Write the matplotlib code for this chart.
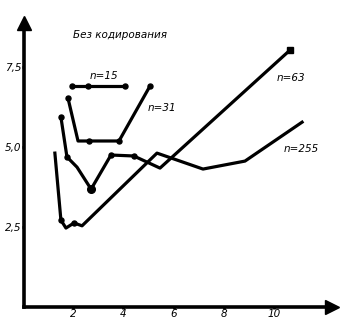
import matplotlib
matplotlib.use("Agg")
import matplotlib.pyplot as plt

# values
n15_x = [1.96, 2.60, 4.07]
n15_y = [6.91, 6.91, 6.91]

n31_x = [1.80, 2.20, 2.64, 3.83, 5.06]
n31_y = [6.54, 5.19, 5.19, 5.19, 6.91]

n63_x = [1.52, 1.76, 1.96, 2.16, 2.72, 3.51, 4.42, 5.46, 10.63]
n63_y = [5.94, 4.69, 4.53, 4.37, 3.68, 4.75, 4.72, 4.34, 8.04]

n255_x = [1.28, 1.52, 1.72, 2.04, 2.36, 5.34, 7.17, 8.84, 11.11]
n255_y = [4.81, 2.71, 2.46, 2.62, 2.53, 4.81, 4.31, 4.56, 5.78]

xticks = [2, 4, 6, 8, 10]
xlabels = ["2", "4", "6", "8", "10"]
yticks = [2.5, 5.0, 7.5]
ylabels = ["2,5", "5,0", "7,5"]

title = "Без кодирования"
names = ["n=15", "n=31", "n=63", "n=255"]

W, H = 350, 328
fig = plt.figure(figsize=(W / 100, H / 100), dpi=100)
ax = fig.add_axes([24.3 / W, (H - 306.5) / H, (332 - 24.3) / W, (306.5 - 23) / H])
ax.set_xlim(0.064, 12.30)
ax.set_ylim(0, 8.89)

lw = 2.3
ms = 3.6
ax.plot(n15_x, n15_y, "k-", lw=lw, marker="o", ms=ms, markevery=[0, 1, 2])
ax.plot(n31_x, n31_y, "k-", lw=lw, marker="o", ms=ms, markevery=[0, 2, 3, 4])
ax.plot(n63_x, n63_y, "k-", lw=lw, marker="o", ms=ms, markevery=[0, 1, 5, 6])
ax.plot(n63_x[4], n63_y[4], "ko", ms=5.5)
ax.plot(n63_x[-1], n63_y[-1], "ks", ms=4.5)
ax.plot(n255_x, n255_y, "k-", lw=lw, marker="o", ms=ms, markevery=[1, 3])

for s in ["top", "right"]:
    ax.spines[s].set_visible(False)
for s in ["left", "bottom"]:
    ax.spines[s].set_linewidth(2.6)

# arrow heads on the axes
ax.plot(1, 0, ">k", ms=10, transform=ax.transAxes, clip_on=False)
ax.plot(0, 1, "^k", ms=10, transform=ax.transAxes, clip_on=False)

font = dict(family="DejaVu Sans", style="italic")
ax.set_xticks(xticks)
ax.set_xticklabels(xlabels, fontsize=7.5, **font)
ax.set_yticks(yticks)
ax.set_yticklabels(ylabels, fontsize=7.5, **font)
ax.tick_params(axis="both", length=1.5, width=2, pad=0.5, colors="black")

ax.text(2.0, 8.51, title, fontsize=7.5, ha="left", va="center", **font)
ax.text(2.68, 7.23, names[0], fontsize=7.5, ha="left", va="center", **font)
ax.text(4.98, 6.23, names[1], fontsize=7.5, ha="left", va="center", **font)
ax.text(10.11, 7.16, names[2], fontsize=7.5, ha="left", va="center", **font)
ax.text(10.39, 4.94, names[3], fontsize=7.5, ha="left", va="center", **font)

fig.savefig("out.png", dpi=100)
